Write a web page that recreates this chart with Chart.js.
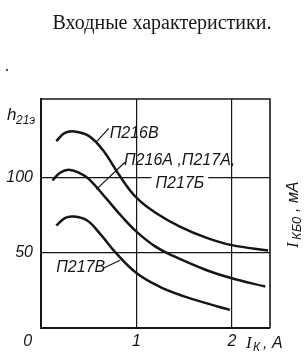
<!DOCTYPE html>
<html>
<head>
<meta charset="utf-8">
<script src="https://cdn.jsdelivr.net/npm/chart.js@4.4.1/dist/chart.umd.min.js"></script>
<style>
  html, body { margin: 0; padding: 0; background: #fff; }
  canvas { display: block; }
</style>
</head>
<body>
<canvas id="chart" width="305" height="361"></canvas>
<script>
// tick values
const xTicks = [0, 1, 2];
const yTicks = [50, 100];

// П216В
const p216vX = [0.16, 0.25, 0.35, 0.5, 0.65, 0.83, 1.0, 1.2, 1.45, 1.73, 2.0, 2.38];
const p216vY = [124, 129.5, 130.5, 127.5, 118, 100.5, 86.5, 76.5, 67.5, 60, 55, 51.5];

// П216А, П217А, П217Б
const p216aX = [0.12, 0.2, 0.29, 0.4, 0.5, 0.69, 0.84, 1.0, 1.2, 1.38, 1.73, 2.0, 2.35];
const p216aY = [98, 103, 105, 103, 99, 85.5, 74.5, 64, 54, 48, 38.5, 33, 27.5];

// П217В
const p217vX = [0.16, 0.25, 0.34, 0.48, 0.62, 0.79, 1.0, 1.24, 1.5, 1.73, 1.98];
const p217vY = [68, 73, 74, 71.5, 62.5, 49.5, 36.5, 27.5, 21, 16.5, 12];

// curve labels: text, text position, leader line (data units)
const curveLabels = [
  { text: 'П216В', at: [0.72, 125.8], leader: [[0.71, 132.5], [0.58, 123.5]] },
  { text: 'П216А ,П217А,', at: [0.87, 108], leader: [[0.88, 110], [0.58, 92]] },
  { text: 'П217Б', at: [1.2, 92.7], leader: null, knockout: true },
  { text: 'П217В', at: [0.16, 37], leader: [[0.65, 39.7], [0.83, 45]] }
];

const toPoints = (xs, ys) => xs.map((x, i) => ({ x: x, y: ys[i] }));

const ink = '#161616';
const labelFont = 'italic 16px "Liberation Sans", Arial, sans-serif';

const extras = {
  id: 'extras',
  afterDraw(chart) {
    const ctx = chart.ctx;
    const a = chart.chartArea;
    const sx = chart.scales.x, sy = chart.scales.y;
    ctx.save();

    // top and right edges of the frame
    ctx.strokeStyle = ink;
    ctx.lineWidth = 1.6;
    ctx.beginPath();
    ctx.moveTo(a.left, a.top);
    ctx.lineTo(a.right, a.top);
    ctx.lineTo(a.right, a.bottom);
    ctx.stroke();

    // curve labels
    ctx.font = labelFont;
    ctx.fillStyle = ink;
    ctx.textBaseline = 'alphabetic';
    ctx.textAlign = 'left';
    curveLabels.forEach(l => {
      const x = sx.getPixelForValue(l.at[0]);
      const y = sy.getPixelForValue(l.at[1]);
      if (l.knockout) {
        const w = ctx.measureText(l.text).width;
        ctx.fillStyle = '#fff';
        ctx.fillRect(x - 4, y - 13, w + 8, 16);
        ctx.fillStyle = ink;
      }
      ctx.fillText(l.text, x, y);
      if (l.leader) {
        ctx.lineWidth = 1.2;
        ctx.beginPath();
        ctx.moveTo(sx.getPixelForValue(l.leader[0][0]), sy.getPixelForValue(l.leader[0][1]));
        ctx.lineTo(sx.getPixelForValue(l.leader[1][0]), sy.getPixelForValue(l.leader[1][1]));
        ctx.stroke();
      }
    });

    // title
    ctx.font = '20px "Liberation Serif", "Times New Roman", serif';
    ctx.textAlign = 'center';
    ctx.fillText('Входные характеристики.', 162, 29);

    // y axis name: h21э
    ctx.textAlign = 'left';
    ctx.font = 'italic 17px "Liberation Sans", Arial, sans-serif';
    ctx.fillText('h', 7, 120);
    ctx.font = 'italic 12px "Liberation Sans", Arial, sans-serif';
    ctx.fillText('21э', 16, 124);

    // x axis name: IК, A
    ctx.font = 'italic 17px "Liberation Serif", serif';
    ctx.fillText('I', 246, 348);
    ctx.font = 'italic 12px "Liberation Sans", Arial, sans-serif';
    ctx.fillText('К', 253, 351);
    ctx.font = labelFont;
    ctx.fillText(', A', 263, 348);

    // right side name: IКБ0, мА (rotated)
    ctx.translate(298, 248);
    ctx.rotate(-Math.PI / 2);
    ctx.font = 'italic 17px "Liberation Serif", serif';
    ctx.fillText('I', 0, 0);
    ctx.font = 'italic 13px "Liberation Sans", Arial, sans-serif';
    ctx.fillText('КБ0', 8, 3);
    ctx.font = 'italic 16px "Liberation Sans", Arial, sans-serif';
    ctx.fillText(', мА', 36, 0);
    ctx.restore();

    // speck on the scan
    ctx.fillStyle = '#555';
    ctx.beginPath();
    ctx.arc(7, 70, 1.2, 0, Math.PI * 2);
    ctx.fill();
  }
};

const curveStyle = {
  borderColor: ink,
  borderWidth: 2.5,
  pointRadius: 0,
  fill: false,
  tension: 0.4
};

new Chart(document.getElementById('chart'), {
  type: 'line',
  data: {
    datasets: [
      Object.assign({ label: 'П216В', data: toPoints(p216vX, p216vY) }, curveStyle),
      Object.assign({ label: 'П216А, П217А, П217Б', data: toPoints(p216aX, p216aY) }, curveStyle),
      Object.assign({ label: 'П217В', data: toPoints(p217vX, p217vY) }, curveStyle)
    ]
  },
  options: {
    responsive: false,
    devicePixelRatio: 1,
    animation: false,
    layout: { padding: { top: 99, right: 35, left: 0, bottom: 0 } },
    plugins: { legend: { display: false }, tooltip: { enabled: false } },
    scales: {
      x: {
        type: 'linear',
        min: 0,
        max: 2.4,
        afterBuildTicks: s => { s.ticks = xTicks.map(v => ({ value: v })); },
        afterFit: s => { s.height = 33; },
        grid: { color: ink, lineWidth: 1.2, drawTicks: false },
        border: { display: true, color: ink, width: 2 },
        ticks: {
          color: ink,
          padding: 4,
          font: { family: '"Liberation Sans", Arial, sans-serif', size: 16, style: 'italic' },
          callback: v => v === 0 ? '0      ' : String(v)
        }
      },
      y: {
        min: 0,
        max: 152,
        afterBuildTicks: s => { s.ticks = yTicks.map(v => ({ value: v })); },
        afterFit: s => { s.width = 41; },
        grid: { color: ink, lineWidth: 1.2, drawTicks: false },
        border: { display: true, color: ink, width: 2 },
        ticks: {
          color: ink,
          padding: 8,
          font: { family: '"Liberation Sans", Arial, sans-serif', size: 16, style: 'italic' }
        }
      }
    }
  },
  plugins: [extras]
});
</script>
</body>
</html>
